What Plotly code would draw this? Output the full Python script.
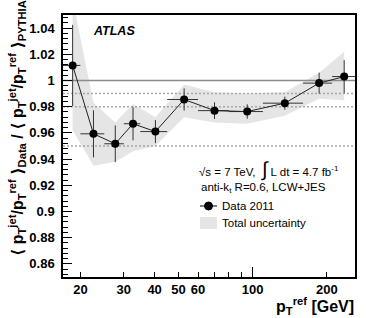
import plotly.graph_objects as go
import numpy as np

# ---- data ----
pt_mean = [18.6, 22.6, 27.7, 32.7, 40.3, 52.7, 70.0, 95.0, 135.0, 186.0, 235.0]
bin_lo = [17, 20, 25, 30, 35, 45, 60, 80, 110, 160, 210]
bin_hi = [20, 25, 30, 35, 45, 60, 80, 110, 160, 210, 260]
ratio = [1.0115, 0.9593, 0.9517, 0.967, 0.961, 0.9855, 0.977, 0.9763, 0.9827, 0.998, 1.003]
stat_err = [0.031, 0.018, 0.014, 0.0127, 0.0088, 0.0085, 0.0064, 0.0055, 0.005, 0.008, 0.0125]
band_hi = [1.062, 0.983, 0.968, 0.982, 0.972, 0.997, 0.991, 0.990, 0.991, 1.006, 1.022]
band_lo = [0.962, 0.935, 0.938, 0.946, 0.950, 0.972, 0.968, 0.967, 0.973, 0.986, 0.985]
ref_solid = [1.0]
ref_dotted = [0.99, 0.98, 0.95]
x_ticks = [20, 30, 40, 50, 60, 100, 200]
x_minor = [70, 80, 90]
x_range = [17, 260]
y_range = [0.85, 1.05]

FONT = "Liberation Sans, Arial, DejaVu Sans"

# plot area in pixels
L, R, T, B = 63, 355, 15, 277
W, H = 374, 318
def px(x):
    return (x - L) / (R - L)
def py(y):
    return (B - y) / (B - T)

fig = go.Figure()

# uncertainty band
fig.add_trace(go.Scatter(
    x=pt_mean + pt_mean[::-1], y=band_hi + band_lo[::-1],
    fill="toself", fillcolor="#e5e5e5", line=dict(width=0),
    mode="lines", hoverinfo="skip", showlegend=False))

# reference lines
for v in ref_solid:
    fig.add_trace(go.Scatter(x=x_range, y=[v, v], mode="lines",
                             line=dict(color="#8c8c8c", width=1.5),
                             showlegend=False, hoverinfo="skip"))
for v in ref_dotted:
    fig.add_trace(go.Scatter(x=x_range, y=[v, v], mode="lines",
                             line=dict(color="#a8a8a8", width=1.5, dash="2px,2px"),
                             showlegend=False, hoverinfo="skip"))

# data
ex_plus = [h - m for h, m in zip(bin_hi, pt_mean)]
ex_minus = [m - l for l, m in zip(bin_lo, pt_mean)]
fig.add_trace(go.Scatter(
    x=pt_mean, y=ratio, mode="lines+markers",
    line=dict(color="#222222", width=1),
    marker=dict(color="black", size=8),
    error_x=dict(type="data", array=ex_plus, arrayminus=ex_minus,
                 color="#333333", thickness=1, width=0),
    error_y=dict(type="data", array=stat_err, color="#333333",
                 thickness=1, width=0),
    showlegend=False))

# overlay axis just for the longer tick at 100
fig.add_trace(go.Scatter(x=[], y=[], xaxis="x2", showlegend=False))

tickfont = dict(family=FONT, size=13, color="black", weight="bold")
fig.update_layout(
    width=W, height=H,
    margin=dict(l=L, r=W - R, t=T, b=H - B, pad=0),
    paper_bgcolor="white", plot_bgcolor="white",
    showlegend=False,
    xaxis=dict(type="log", range=[np.log10(x_range[0]), np.log10(x_range[1])],
               tickmode="array", tickvals=x_ticks, ticktext=[str(v) for v in x_ticks],
               ticks="inside", ticklen=5, tickcolor="black",
               minor=dict(tickmode="array", tickvals=x_minor, ticks="inside",
                          ticklen=5, tickcolor="black", showgrid=False),
               showline=True, linecolor="black", linewidth=1.5, mirror=True,
               showgrid=False, zeroline=False, tickfont=tickfont),
    xaxis2=dict(type="log", range=[np.log10(x_range[0]), np.log10(x_range[1])],
                overlaying="x", side="bottom", tickmode="array", tickvals=[100],
                ticks="inside", ticklen=10, tickcolor="black", showticklabels=False,
                showgrid=False, zeroline=False, showline=False, anchor="y"),
    yaxis=dict(range=y_range, dtick=0.02, tickformat="~g",
               ticks="inside", ticklen=9, tickcolor="black",
               minor=dict(dtick=0.004, ticks="inside", ticklen=5,
                          tickcolor="black", showgrid=False),
               showline=True, linecolor="black", linewidth=1.5, mirror=True,
               showgrid=False, zeroline=False, tickfont=tickfont,
               ticklabelstandoff=4),
)

ann = []
# y title
ytitle = ("⟨ p<sub>T</sub><sup>jet</sup>/p<sub>T</sub><sup>ref</sup> ⟩<sub>Data</sub>"
          " / ⟨ p<sub>T</sub><sup>jet</sup>/p<sub>T</sub><sup>ref</sup> ⟩<sub>PYTHIA</sub>")
ann.append(dict(text="<b>" + ytitle + "</b>", xref="paper", yref="paper",
                x=px(17), y=py(128), xanchor="center", yanchor="middle",
                textangle=-90, showarrow=False,
                font=dict(family=FONT, size=16, color="black")))
# x title
ann.append(dict(text="<b>p<sub>T</sub><sup>ref</sup> [GeV]</b>", xref="paper", yref="paper",
                x=px(356), y=py(306), xanchor="right", yanchor="middle",
                showarrow=False, font=dict(family=FONT, size=16, color="black")))
# ATLAS
ann.append(dict(text="<b><i>ATLAS</i></b>", xref="paper", yref="paper",
                x=px(91), y=py(31), xanchor="left", yanchor="middle",
                showarrow=False, font=dict(family=FONT, size=12.5, color="black")))
small = dict(family=FONT, size=11.5, color="black")
ann.append(dict(text="√s = 7 TeV,  <span style='font-size:20px'>∫</span> L dt = 4.7 fb<sup>-1</sup>",
                xref="paper", yref="paper", x=px(197), y=py(170),
                xanchor="left", yanchor="middle", showarrow=False, font=small))
ann.append(dict(text="anti-k<sub>t</sub> R=0.6, LCW+JES",
                xref="paper", yref="paper", x=px(199), y=py(188),
                xanchor="left", yanchor="middle", showarrow=False, font=small))
ann.append(dict(text="Data 2011",
                xref="paper", yref="paper", x=px(220), y=py(206),
                xanchor="left", yanchor="middle", showarrow=False, font=small))
ann.append(dict(text="Total uncertainty",
                xref="paper", yref="paper", x=px(220), y=py(223),
                xanchor="left", yanchor="middle", showarrow=False, font=small))
fig.update_layout(annotations=ann)

shapes = [
    dict(type="line", xref="paper", yref="paper", x0=px(200), x1=px(217),
         y0=py(206), y1=py(206), line=dict(color="black", width=1)),
    dict(type="circle", xref="paper", yref="paper", xsizemode="pixel", ysizemode="pixel",
         xanchor=px(208.5), yanchor=py(206), x0=-4, x1=4, y0=-4, y1=4,
         fillcolor="black", line=dict(color="black", width=1)),
    dict(type="rect", xref="paper", yref="paper", x0=px(200), x1=px(217),
         y0=py(229), y1=py(217), fillcolor="#e5e5e5", line=dict(width=0)),
]
fig.update_layout(shapes=shapes)

fig.write_html("out.html", config={"displayModeBar": False},
               post_script="document.body.style.margin='0';document.body.style.padding='0';")
